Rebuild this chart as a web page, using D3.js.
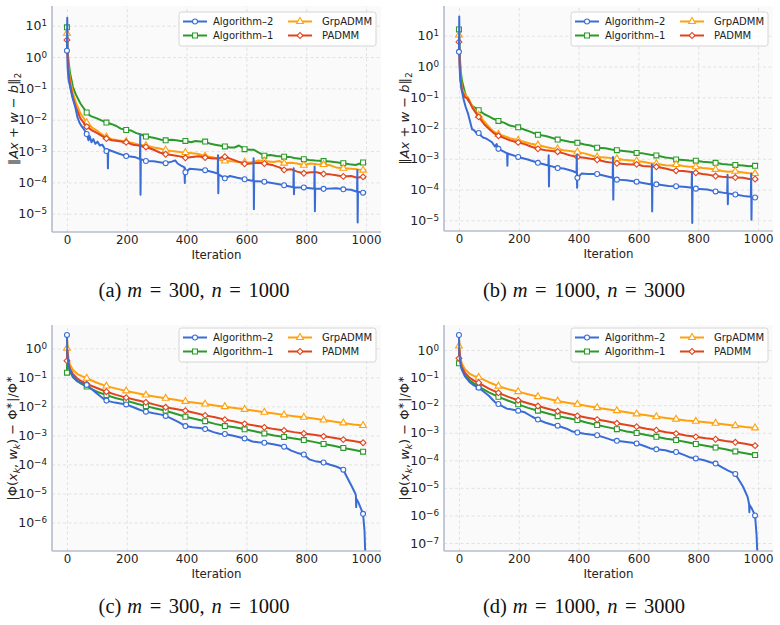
<!DOCTYPE html>
<html>
<head>
<meta charset="utf-8">
<script src="https://cdn.jsdelivr.net/npm/d3@7/dist/d3.min.js"></script>
<style>
	body { margin: 0; background: #fff; }
	svg text { font-family: "DejaVu Sans", sans-serif; }
	svg text.caption { font-family: "Liberation Serif", serif; }
</style>
</head>
<body>
<div id="chart"></div>
<script>

// ---- values ----

var seriesNames = ["Algorithm–2", "Algorithm–1", "GrpADMM", "PADMM"];
var markIters = [0, 66, 132, 198, 264, 330, 396, 462, 528, 594, 660, 726, 792, 858, 924, 990];
var xTicks = [0, 200, 400, 600, 800, 1000];
var resTicks = [1, 0, -1, -2, -3, -4, -5];
var gapTicksC = [0, -1, -2, -3, -4, -5, -6];
var gapTicksD = [0, -1, -2, -3, -4, -5, -6, -7];
var captionLetters = ["a", "b", "c", "d"];
var mValues = [300, 1000, 300, 1000];
var nValues = [1000, 3000, 1000, 3000];

// (a) residual, m=300 n=1000
var resA_alg2 = [[0,1.6],[1,18],[2,0.5],[5,0.2],[10,0.12],[15,0.07],[20,0.045],[28,0.025],[35,0.012],[42,0.008],[50,0.006],[58,0.0048],[66,0.0035],[72,0.0022],[76,0.003],[82,0.0019],[88,0.0024],[95,0.0017],[102,0.002],[110,0.0015],[118,0.0016],[126,0.0012],[132,0.001],[136,0.0011],[137,2.8e-4],[138,0.0011],[150,0.001],[170,8.5e-4],[198,6.9e-4],[230,6.3e-4],[244,5.5e-4],[245,3.2e-3],[246,4e-5],[247,5.5e-4],[264,4.8e-4],[290,4.7e-4],[330,4.1e-4],[350,4.6e-4],[362,5.0e-4],[370,4.0e-4],[380,3.5e-4],[393,3e-4],[394,9.5e-5],[395,2.8e-4],[396,2.1e-4],[410,2.7e-4],[430,2.6e-4],[462,2.45e-4],[490,2.1e-4],[504,1.9e-4],[505,7.4e-4],[506,4.5e-5],[507,1.8e-4],[528,1.35e-4],[545,1.6e-4],[570,1.4e-4],[594,1.26e-4],[623,1.1e-4],[624,5.9e-4],[625,1.4e-5],[626,1.1e-4],[660,1.05e-4],[700,9e-5],[726,8.1e-5],[757,7e-5],[758,2.8e-4],[759,4.2e-5],[760,7e-5],[792,6.9e-5],[827,6.3e-5],[828,3.2e-4],[829,1.2e-5],[830,6.3e-5],[858,6.2e-5],[900,6.5e-5],[924,6e-5],[950,5.8e-5],[970,5e-5],[971,2.5e-4],[972,5.2e-6],[973,5e-5],[990,4.7e-5],[1000,4.8e-5]];
var resA_alg1 = [[0,8.9],[1,5],[2,1.6],[5,0.8],[10,0.32],[20,0.11],[30,0.063],[45,0.033],[66,0.017],[80,0.013],[100,0.011],[115,0.0095],[132,0.0081],[150,0.0072],[165,0.0063],[180,0.0052],[198,0.0047],[215,0.0045],[230,0.0038],[250,0.0033],[264,0.0029],[285,0.0027],[300,0.0025],[315,0.0023],[330,0.0022],[350,0.0023],[365,0.0022],[380,0.0021],[396,0.0021],[415,0.0019],[430,0.0021],[445,0.002],[462,0.002],[480,0.0017],[495,0.0016],[510,0.0015],[528,0.0014],[545,0.0013],[560,0.0013],[575,0.0015],[594,0.00115],[610,0.0011],[625,0.0011],[640,0.0009],[660,0.00071],[680,0.00075],[700,0.0007],[726,0.00066],[745,0.00065],[760,0.0006],[792,0.00055],[810,0.00052],[830,0.0005],[858,0.00048],[880,0.00046],[900,0.00044],[924,0.00041],[945,0.00038],[965,0.00036],[990,0.00043],[1000,0.00038]];
var resA_grp = [[0,5.7],[1,3],[3,1],[6,0.4],[10,0.2],[20,0.07],[30,0.035],[45,0.016],[66,0.008],[85,0.0055],[100,0.0045],[115,0.0035],[132,0.0028],[150,0.0024],[170,0.0022],[198,0.002],[220,0.0018],[240,0.0016],[264,0.0015],[290,0.0013],[310,0.0012],[330,0.00107],[350,0.001],[370,0.00095],[396,0.00089],[420,0.00085],[440,0.0008],[462,0.00069],[490,0.00062],[510,0.00052],[528,0.00048],[550,0.00047],[575,0.00045],[594,0.00044],[615,0.00043],[640,0.0005],[660,0.00048],[690,0.00045],[710,0.00048],[726,0.00041],[750,0.00042],[770,0.0004],[792,0.00035],[815,0.0004],[835,0.00038],[858,0.00037],[880,0.00035],[900,0.0003],[924,0.00028],[950,0.00027],[970,0.00026],[990,0.000245],[1000,0.00025]];
var resA_padmm = [[0,3.5],[1,2],[3,0.7],[6,0.3],[10,0.14],[20,0.05],[30,0.025],[45,0.011],[66,0.006],[85,0.0045],[100,0.0038],[115,0.0031],[132,0.0025],[150,0.0022],[170,0.0021],[198,0.0019],[220,0.0016],[240,0.0015],[264,0.00135],[290,0.0011],[310,0.0009],[330,0.00079],[350,0.00075],[370,0.0007],[396,0.00061],[420,0.00065],[440,0.00068],[462,0.00062],[490,0.00058],[510,0.0006],[528,0.00066],[550,0.00055],[575,0.00045],[594,0.00039],[615,0.0004],[640,0.00042],[660,0.0004],[690,0.00035],[710,0.0003],[726,0.00025],[750,0.00026],[770,0.00022],[792,0.000195],[815,0.00021],[835,0.00021],[858,0.000186],[880,0.00018],[900,0.00017],[924,0.000155],[950,0.00016],[970,0.00014],[990,0.00015],[1000,0.00014]];

// (b) residual, m=1000 n=3000
var resB_alg2 = [[0,3.0],[1,42],[2,1.2],[4,0.4],[8,0.2],[15,0.09],[22,0.05],[30,0.03],[38,0.015],[44,0.009],[50,0.0085],[58,0.007],[66,0.0069],[75,0.0055],[82,0.0048],[90,0.0046],[100,0.004],[110,0.0035],[120,0.0025],[126,0.003],[132,0.0021],[150,0.0017],[161,0.0015],[162,5.9e-4],[163,0.0015],[170,0.0014],[198,0.00115],[230,0.00095],[264,0.00074],[290,0.00064],[299,0.0006],[300,0.0013],[301,1.26e-4],[302,0.0006],[330,0.0005],[350,0.00048],[380,0.0004],[393,0.00035],[394,0.0013],[395,1.15e-4],[396,0.00024],[410,0.00033],[430,0.00032],[462,0.00032],[500,0.00026],[514,0.00024],[515,0.00115],[516,4.7e-5],[517,0.00023],[528,0.00021],[560,0.0002],[594,0.00018],[620,0.00016],[644,0.000145],[645,0.00065],[646,1.95e-5],[647,0.00014],[660,0.000148],[700,0.00013],[726,0.000129],[760,0.00012],[778,0.000115],[779,0.00037],[780,8.1e-6],[781,0.00011],[792,0.000107],[830,0.0001],[858,8.7e-5],[897,7.5e-5],[898,0.0003],[899,3.3e-5],[900,7.5e-5],[924,6.9e-5],[960,6e-5],[976,5.8e-5],[977,0.00033],[978,1.05e-5],[979,5.5e-5],[990,5.5e-5],[1000,5.3e-5]];
var resB_alg1 = [[0,16],[1,8],[3,2],[6,0.7],[10,0.35],[20,0.14],[30,0.08],[45,0.052],[66,0.038],[85,0.028],[100,0.024],[115,0.02],[132,0.017],[150,0.015],[170,0.012],[198,0.0105],[220,0.0088],[240,0.0075],[264,0.006],[290,0.0055],[310,0.0048],[330,0.0042],[350,0.0039],[370,0.0036],[396,0.0033],[420,0.0029],[440,0.0027],[462,0.0023],[490,0.0022],[510,0.002],[528,0.0019],[550,0.0018],[575,0.0017],[594,0.00155],[615,0.0015],[640,0.00135],[660,0.00129],[690,0.0011],[710,0.00105],[726,0.00095],[750,0.00092],[770,0.00088],[792,0.00087],[815,0.0008],[835,0.00077],[858,0.00074],[880,0.00068],[900,0.00065],[924,0.00063],[950,0.0006],[970,0.00057],[990,0.00059],[1000,0.00058]];
var resB_grp = [[0,10.5],[1,5],[3,1.3],[6,0.45],[10,0.2],[20,0.12],[30,0.1],[45,0.05],[66,0.026],[85,0.016],[100,0.011],[115,0.0078],[132,0.0063],[150,0.0055],[170,0.0047],[198,0.004],[220,0.0035],[240,0.0031],[264,0.0028],[290,0.0024],[310,0.0022],[330,0.0021],[350,0.0019],[370,0.0018],[396,0.00166],[420,0.0015],[440,0.0013],[462,0.00115],[490,0.0011],[510,0.00105],[528,0.001],[550,0.00093],[575,0.00088],[594,0.00085],[615,0.0008],[640,0.00072],[660,0.00069],[690,0.00062],[710,0.0006],[726,0.00065],[750,0.00058],[770,0.00055],[792,0.00055],[815,0.0005],[835,0.00048],[858,0.00045],[880,0.0004],[900,0.00038],[924,0.00039],[950,0.00036],[970,0.00034],[990,0.00033],[1000,0.00032]];
var resB_padmm = [[0,6.3],[1,3],[3,0.9],[6,0.35],[10,0.16],[20,0.1],[30,0.09],[45,0.045],[66,0.023],[85,0.013],[100,0.0095],[115,0.007],[132,0.0056],[150,0.0048],[170,0.004],[198,0.0034],[220,0.003],[240,0.0025],[264,0.0021],[290,0.0019],[310,0.0018],[330,0.0017],[350,0.0015],[370,0.0013],[396,0.00115],[420,0.00108],[440,0.001],[462,0.00093],[490,0.0008],[510,0.00075],[528,0.00071],[550,0.00068],[575,0.00065],[594,0.00066],[615,0.00058],[640,0.00056],[660,0.00055],[690,0.00048],[710,0.00043],[726,0.00041],[750,0.0004],[770,0.00038],[792,0.00035],[815,0.00032],[835,0.0003],[858,0.000275],[880,0.00026],[900,0.00025],[924,0.000245],[950,0.00024],[970,0.00022],[990,0.00022],[1000,0.00021]];

// (c) relative objective gap, m=300 n=1000
var gapC_alg2 = [[0,2.9],[1,0.8],[3,0.4],[6,0.25],[10,0.18],[20,0.11],[35,0.075],[50,0.062],[66,0.055],[100,0.028],[120,0.019],[132,0.0158],[160,0.0135],[198,0.0117],[220,0.0095],[245,0.0075],[264,0.0066],[290,0.0058],[315,0.0052],[330,0.0047],[350,0.0038],[375,0.0028],[396,0.0021],[420,0.0019],[445,0.0018],[462,0.00166],[490,0.0013],[510,0.00115],[528,0.00112],[560,0.00095],[580,0.00085],[594,0.00079],[620,0.00062],[640,0.00058],[660,0.00056],[690,0.0005],[710,0.00045],[726,0.00041],[750,0.0003],[770,0.00025],[792,0.00022],[810,0.00015],[830,0.00013],[858,0.000117],[880,9.8e-5],[900,8.5e-5],[924,6.6e-5],[936,3.7e-5],[953,1.7e-5],[964,1e-5],[966,8.5e-6],[967,3.4e-6],[968,6.5e-6],[975,4.8e-6],[990,2.0e-6],[995,5e-7],[1000,1e-8]];
var gapC_alg1 = [[0,0.145],[1,0.7],[3,0.35],[6,0.22],[10,0.16],[20,0.1],[35,0.072],[50,0.058],[66,0.048],[100,0.032],[132,0.0245],[165,0.019],[198,0.0158],[231,0.0126],[264,0.0102],[297,0.0085],[330,0.0071],[363,0.0056],[396,0.0044],[429,0.0037],[462,0.0031],[495,0.0025],[528,0.0021],[561,0.0019],[594,0.00162],[627,0.0014],[660,0.00117],[693,0.001],[726,0.00089],[759,0.00079],[792,0.00069],[825,0.0006],[858,0.00051],[891,0.00044],[924,0.00037],[957,0.00032],[990,0.000275],[1000,0.00026]];
var gapC_grp = [[0,1.0],[1,1.9],[3,0.7],[6,0.4],[10,0.28],[20,0.18],[35,0.13],[50,0.11],[66,0.093],[100,0.065],[132,0.05],[165,0.041],[198,0.034],[231,0.029],[264,0.0245],[297,0.0215],[330,0.019],[363,0.0168],[396,0.0148],[429,0.0133],[462,0.012],[495,0.0108],[528,0.0098],[561,0.0088],[594,0.0079],[627,0.0071],[660,0.0063],[693,0.0057],[726,0.0051],[759,0.0046],[792,0.0042],[825,0.0038],[858,0.0034],[891,0.003],[924,0.0027],[957,0.0024],[990,0.0022],[1000,0.0021]];
var gapC_padmm = [[0,0.37],[1,0.9],[3,0.45],[6,0.28],[10,0.2],[20,0.13],[35,0.09],[50,0.072],[66,0.059],[100,0.043],[132,0.032],[165,0.025],[198,0.02],[231,0.0165],[264,0.0138],[297,0.0113],[330,0.0093],[363,0.0082],[396,0.0071],[429,0.0059],[462,0.0049],[495,0.0042],[528,0.0035],[561,0.003],[594,0.0025],[627,0.0022],[660,0.0019],[693,0.00165],[726,0.00148],[759,0.0013],[792,0.00117],[825,0.00105],[858,0.00093],[891,0.00083],[924,0.00072],[957,0.00064],[990,0.00056],[1000,0.00055]];

// (d) relative objective gap, m=1000 n=3000
var gapD_alg2 = [[0,3.5],[1,1.0],[3,0.45],[6,0.28],[10,0.19],[20,0.11],[35,0.07],[50,0.052],[66,0.043],[100,0.022],[120,0.013],[132,0.011],[160,0.0075],[198,0.0063],[220,0.0055],[245,0.0038],[264,0.003],[290,0.0023],[315,0.0019],[330,0.0018],[360,0.0014],[380,0.0011],[396,0.00102],[420,0.00092],[445,0.00085],[462,0.00081],[490,0.00065],[510,0.00055],[528,0.00051],[560,0.00046],[580,0.00043],[594,0.00041],[620,0.00033],[640,0.00027],[660,0.00025],[690,0.00023],[710,0.0002],[726,0.0002],[750,0.00016],[770,0.00013],[792,0.000117],[820,0.0001],[840,8.5e-5],[858,7.6e-5],[880,5.5e-5],[900,4.2e-5],[924,3.2e-5],[950,1.1e-5],[965,4.7e-6],[970,2.6e-6],[971,1.3e-6],[972,2.4e-6],[980,1.7e-6],[990,1.0e-6],[995,2e-7],[1000,1e-8]];
var gapD_alg1 = [[0,0.33],[1,0.9],[3,0.45],[6,0.28],[10,0.2],[20,0.12],[35,0.08],[50,0.062],[66,0.047],[100,0.029],[132,0.02],[165,0.0145],[198,0.0107],[231,0.008],[264,0.0063],[297,0.005],[330,0.004],[363,0.0034],[396,0.0029],[429,0.0023],[462,0.0019],[495,0.0016],[528,0.00135],[561,0.0011],[594,0.00098],[627,0.00083],[660,0.00071],[693,0.0006],[726,0.00054],[759,0.00046],[792,0.00039],[825,0.00034],[858,0.00029],[891,0.00025],[924,0.00021],[957,0.00018],[990,0.000155],[1000,0.00015]];
var gapD_grp = [[0,1.4],[1,2.2],[3,0.8],[6,0.45],[10,0.32],[20,0.2],[35,0.14],[50,0.115],[66,0.102],[100,0.068],[132,0.049],[165,0.038],[198,0.031],[231,0.025],[264,0.0204],[297,0.017],[330,0.0141],[363,0.0122],[396,0.0107],[429,0.0093],[462,0.0081],[495,0.0071],[528,0.0063],[561,0.0055],[594,0.0048],[627,0.0043],[660,0.0038],[693,0.0034],[726,0.0031],[759,0.0028],[792,0.0026],[825,0.0024],[858,0.0022],[891,0.002],[924,0.0018],[957,0.0016],[990,0.0015],[1000,0.0015]];
var gapD_padmm = [[0,0.5],[1,1.1],[3,0.55],[6,0.33],[10,0.24],[20,0.15],[35,0.1],[50,0.078],[66,0.065],[100,0.04],[132,0.028],[165,0.02],[198,0.015],[231,0.0118],[264,0.0093],[297,0.0074],[330,0.006],[363,0.005],[396,0.0041],[429,0.0035],[462,0.003],[495,0.0026],[528,0.0022],[561,0.0019],[594,0.00166],[627,0.0014],[660,0.00123],[693,0.00105],[726,0.00093],[759,0.0008],[792,0.00071],[825,0.00063],[858,0.00058],[891,0.0005],[924,0.00045],[957,0.0004],[990,0.00034],[1000,0.00033]];


// ---- styling ----
var seriesColors = ["#3a6cd6", "#2b9a2b", "#ffa10c", "#e0441f"];
var seriesSymbols = [d3.symbolCircle, d3.symbolSquare, d3.symbolTriangle, d3.symbolSquare];
var symbolSizes = [19, 24, 20, 17];
var symbolRotate = [0, 0, 0, 45];
var drawOrder = [1, 2, 3, 0];

// math labels as [text, style] tokens
var resLabel = [["‖",""],["A","i"],["x","i"],[" + ",""],["w","i"],[" − ",""],["b","i"],["‖",""],["2","sub"]];
var gapLabel = [["|Φ(",""],["x","i"],["k","isub"],[", ",""],["w","i"],["k","isub"],[") − Φ",""],["∗","sup"],["|/Φ",""],["∗","sup"]];


/*
 *  ConvPlot - one log-scale convergence panel
 */

ConvPlot = function(_svg, _config) {
	this.svg = _svg;
	this.config = _config;

	this.initVis();
}

ConvPlot.prototype.initVis = function() {
	var vis = this;
	var c = vis.config;

	vis.width = c.width;
	vis.height = c.height;

	vis.g = vis.svg.append("g")
		.attr("transform", "translate(" + c.left + "," + c.top + ")");

	vis.x = d3.scaleLinear().domain([-50, 1050]).range([0, vis.width]);
	vis.y = d3.scaleLog().domain([Math.pow(10, c.yLo), Math.pow(10, c.yHi)]).range([vis.height, 0]);

	vis.g.append("rect")
		.attr("width", vis.width)
		.attr("height", vis.height)
		.attr("fill", "#fafafa");

	// GRID //
	vis.g.append("g")
		.attr("class", "grid")
		.attr("transform", "translate(0," + vis.height + ")")
		.call(d3.axisBottom(vis.x).tickValues(xTicks).tickSize(-vis.height).tickFormat(""));
	vis.g.append("g")
		.attr("class", "grid")
		.call(d3.axisLeft(vis.y).tickValues(c.yTicks.map(function(e) { return Math.pow(10, e); }))
			.tickSize(-vis.width).tickFormat(""));
	vis.g.selectAll(".grid .domain").remove();
	vis.g.selectAll(".grid line")
		.attr("stroke", "#dcdcdc")
		.attr("stroke-width", 0.8)
		.attr("stroke-dasharray", "3,2.5");

	vis.clipId = "clip-" + c.name;
	vis.g.append("clipPath").attr("id", vis.clipId)
		.append("rect").attr("width", vis.width).attr("height", vis.height);

	vis.updateVis();
}

ConvPlot.prototype.updateVis = function() {
	var vis = this;
	var c = vis.config;

	var line = d3.line()
		.x(function(d) { return vis.x(d[0]); })
		.y(function(d) { return vis.y(d[1]); });

	var plot = vis.g.append("g").attr("clip-path", "url(#" + vis.clipId + ")");

	drawOrder.forEach(function(i) {
		var data = c.series[i];
		plot.append("path")
			.datum(data)
			.attr("d", line)
			.attr("fill", "none")
			.attr("stroke", seriesColors[i])
			.attr("stroke-width", 2)
			.attr("stroke-linejoin", "round");

		plot.selectAll(".mk" + i)
			.data(data.filter(function(d) { return markIters.indexOf(d[0]) >= 0; }))
			.enter().append("path")
			.attr("class", "mk" + i)
			.attr("d", d3.symbol().type(seriesSymbols[i]).size(symbolSizes[i]))
			.attr("transform", function(d) {
				return "translate(" + vis.x(d[0]) + "," + vis.y(d[1]) + ") rotate(" + symbolRotate[i] + ")";
			})
			.attr("fill", "#fff")
			.attr("stroke", seriesColors[i])
			.attr("stroke-width", 1.1);
	});

	// SPINES + AXES //
	var xAxis = vis.g.append("g")
		.attr("transform", "translate(0," + vis.height + ")")
		.call(d3.axisBottom(vis.x).tickValues(xTicks).tickSize(0).tickPadding(4).tickFormat(d3.format("d")));
	xAxis.selectAll("text").attr("font-size", 11.8).attr("fill", "#222").attr("font-family", "DejaVu Sans");

	var yAxis = vis.g.append("g")
		.call(d3.axisLeft(vis.y).tickValues(c.yTicks.map(function(e) { return Math.pow(10, e); }))
			.tickSize(0).tickPadding(5));
	yAxis.selectAll("text")
		.attr("font-size", 12.5).attr("fill", "#222").attr("font-family", "DejaVu Sans")
		.each(function(d) {
			var t = d3.select(this);
			var e = Math.round(Math.log10(d));
			t.text(null);
			t.append("tspan").text("10");
			t.append("tspan").attr("dy", "-0.45em").attr("font-size", "0.7em")
				.text(e < 0 ? "−" + (-e) : "" + e);
		});

	vis.g.selectAll(".domain").remove();
	vis.g.append("line")
		.attr("x1", 0).attr("x2", 0).attr("y1", 0).attr("y2", vis.height)
		.attr("stroke", "#b4bccc").attr("stroke-width", 1.6);
	vis.g.append("line")
		.attr("x1", 0).attr("x2", vis.width).attr("y1", vis.height).attr("y2", vis.height)
		.attr("stroke", "#b4bccc").attr("stroke-width", 1.6);

	vis.g.append("text")
		.attr("x", vis.width / 2)
		.attr("y", vis.height + 27)
		.attr("text-anchor", "middle")
		.attr("font-size", 11.8)
		.attr("fill", "#222")
		.text("Iteration");

	// Y LABEL //
	var yl = vis.g.append("text")
		.attr("transform", "translate(" + (-c.left + c.labelX) + "," + (vis.height / 2) + ") rotate(-90)")
		.attr("text-anchor", "middle")
		.attr("font-size", 13)
		.attr("fill", "#222");
	var shift = 0;
	c.yLabel.forEach(function(tok) {
		var target = tok[1].indexOf("sub") >= 0 ? 3.2 : (tok[1] === "sup" ? -5 : 0);
		var ts = yl.append("tspan").attr("dy", target - shift).text(tok[0]);
		shift = target;
		if (tok[1].indexOf("i") === 0) ts.attr("font-style", "italic");
		if (tok[1].indexOf("sub") >= 0 || tok[1] === "sup") ts.attr("font-size", 9);
	});

	// LEGEND //
	var lg = vis.g.append("g").attr("transform", "translate(" + c.legendX + "," + c.legendY + ")");
	lg.append("rect")
		.attr("width", 197).attr("height", 34).attr("rx", 2.5)
		.attr("fill", "#fff").attr("fill-opacity", 0.8)
		.attr("stroke", "#cccccc").attr("stroke-width", 0.8);
	seriesNames.forEach(function(name, i) {
		var col = Math.floor(i / 2), row = i % 2;
		var ox = col === 0 ? 4 : 109, oy = row === 0 ? 9.5 : 23.5;
		lg.append("line")
			.attr("x1", ox).attr("x2", ox + 24).attr("y1", oy).attr("y2", oy)
			.attr("stroke", seriesColors[i]).attr("stroke-width", 2);
		lg.append("path")
			.attr("d", d3.symbol().type(seriesSymbols[i]).size(symbolSizes[i]))
			.attr("transform", "translate(" + (ox + 12) + "," + oy + ") rotate(" + symbolRotate[i] + ")")
			.attr("fill", "#fff").attr("stroke", seriesColors[i]).attr("stroke-width", 1.1);
		lg.append("text")
			.attr("x", ox + (col === 0 ? 30 : 34)).attr("y", oy + 3.5)
			.attr("font-size", 10).attr("fill", "#222")
			.text(name);
	});

	// CAPTION //
	var cap = vis.svg.append("text")
		.attr("class", "caption")
		.attr("x", c.capX).attr("y", c.capY)
		.attr("text-anchor", "middle")
		.attr("font-size", 20.5)
		.attr("fill", "#111");
	cap.append("tspan").text("(" + c.letter + ")");
	cap.append("tspan").attr("dx", 6).attr("font-style", "italic").text("m");
	cap.append("tspan").attr("dx", 7.5).text("=");
	cap.append("tspan").attr("dx", 7.5).text(c.m + ",");
	cap.append("tspan").attr("dx", 7).attr("font-style", "italic").text("n");
	cap.append("tspan").attr("dx", 7.5).text("=");
	cap.append("tspan").attr("dx", 7.5).text(c.n);
}


// ---- build the figure ----
var svg = d3.select("#chart").append("svg")
	.attr("width", 780)
	.attr("height", 625);

var panelSeries = [
	[resA_alg2, resA_alg1, resA_grp, resA_padmm],
	[resB_alg2, resB_alg1, resB_grp, resB_padmm],
	[gapC_alg2, gapC_alg1, gapC_grp, gapC_padmm],
	[gapD_alg2, gapD_alg1, gapD_grp, gapD_padmm]
];
var panelBox = [
	{left: 52, top: 6, width: 329, height: 226, yLo: -5.584, yHi: 1.629, labelX: 18},
	{left: 444, top: 6, width: 329, height: 225, yLo: -5.348, yHi: 1.967, labelX: 409},
	{left: 52, top: 325, width: 329, height: 226, yLo: -6.98, yHi: 0.803, labelX: 17},
	{left: 444, top: 325, width: 329, height: 226, yLo: -7.29, yHi: 0.908, labelX: 409}
];
var panelTicks = [resTicks, resTicks, gapTicksC, gapTicksD];
var panelLabels = [resLabel, resLabel, gapLabel, gapLabel];

panelBox.forEach(function(b, k) {
	new ConvPlot(svg, {
		name: captionLetters[k],
		left: b.left, top: b.top, width: b.width, height: b.height,
		yLo: b.yLo, yHi: b.yHi, labelX: b.labelX,
		yTicks: panelTicks[k],
		yLabel: panelLabels[k],
		series: panelSeries[k],
		legendX: 127, legendY: k < 2 ? 6 : 3,
		letter: captionLetters[k], m: mValues[k], n: nValues[k],
		capX: k % 2 === 0 ? 194 : 584,
		capY: k < 2 ? 297 : 613
	});
});

</script>
</body>
</html>
